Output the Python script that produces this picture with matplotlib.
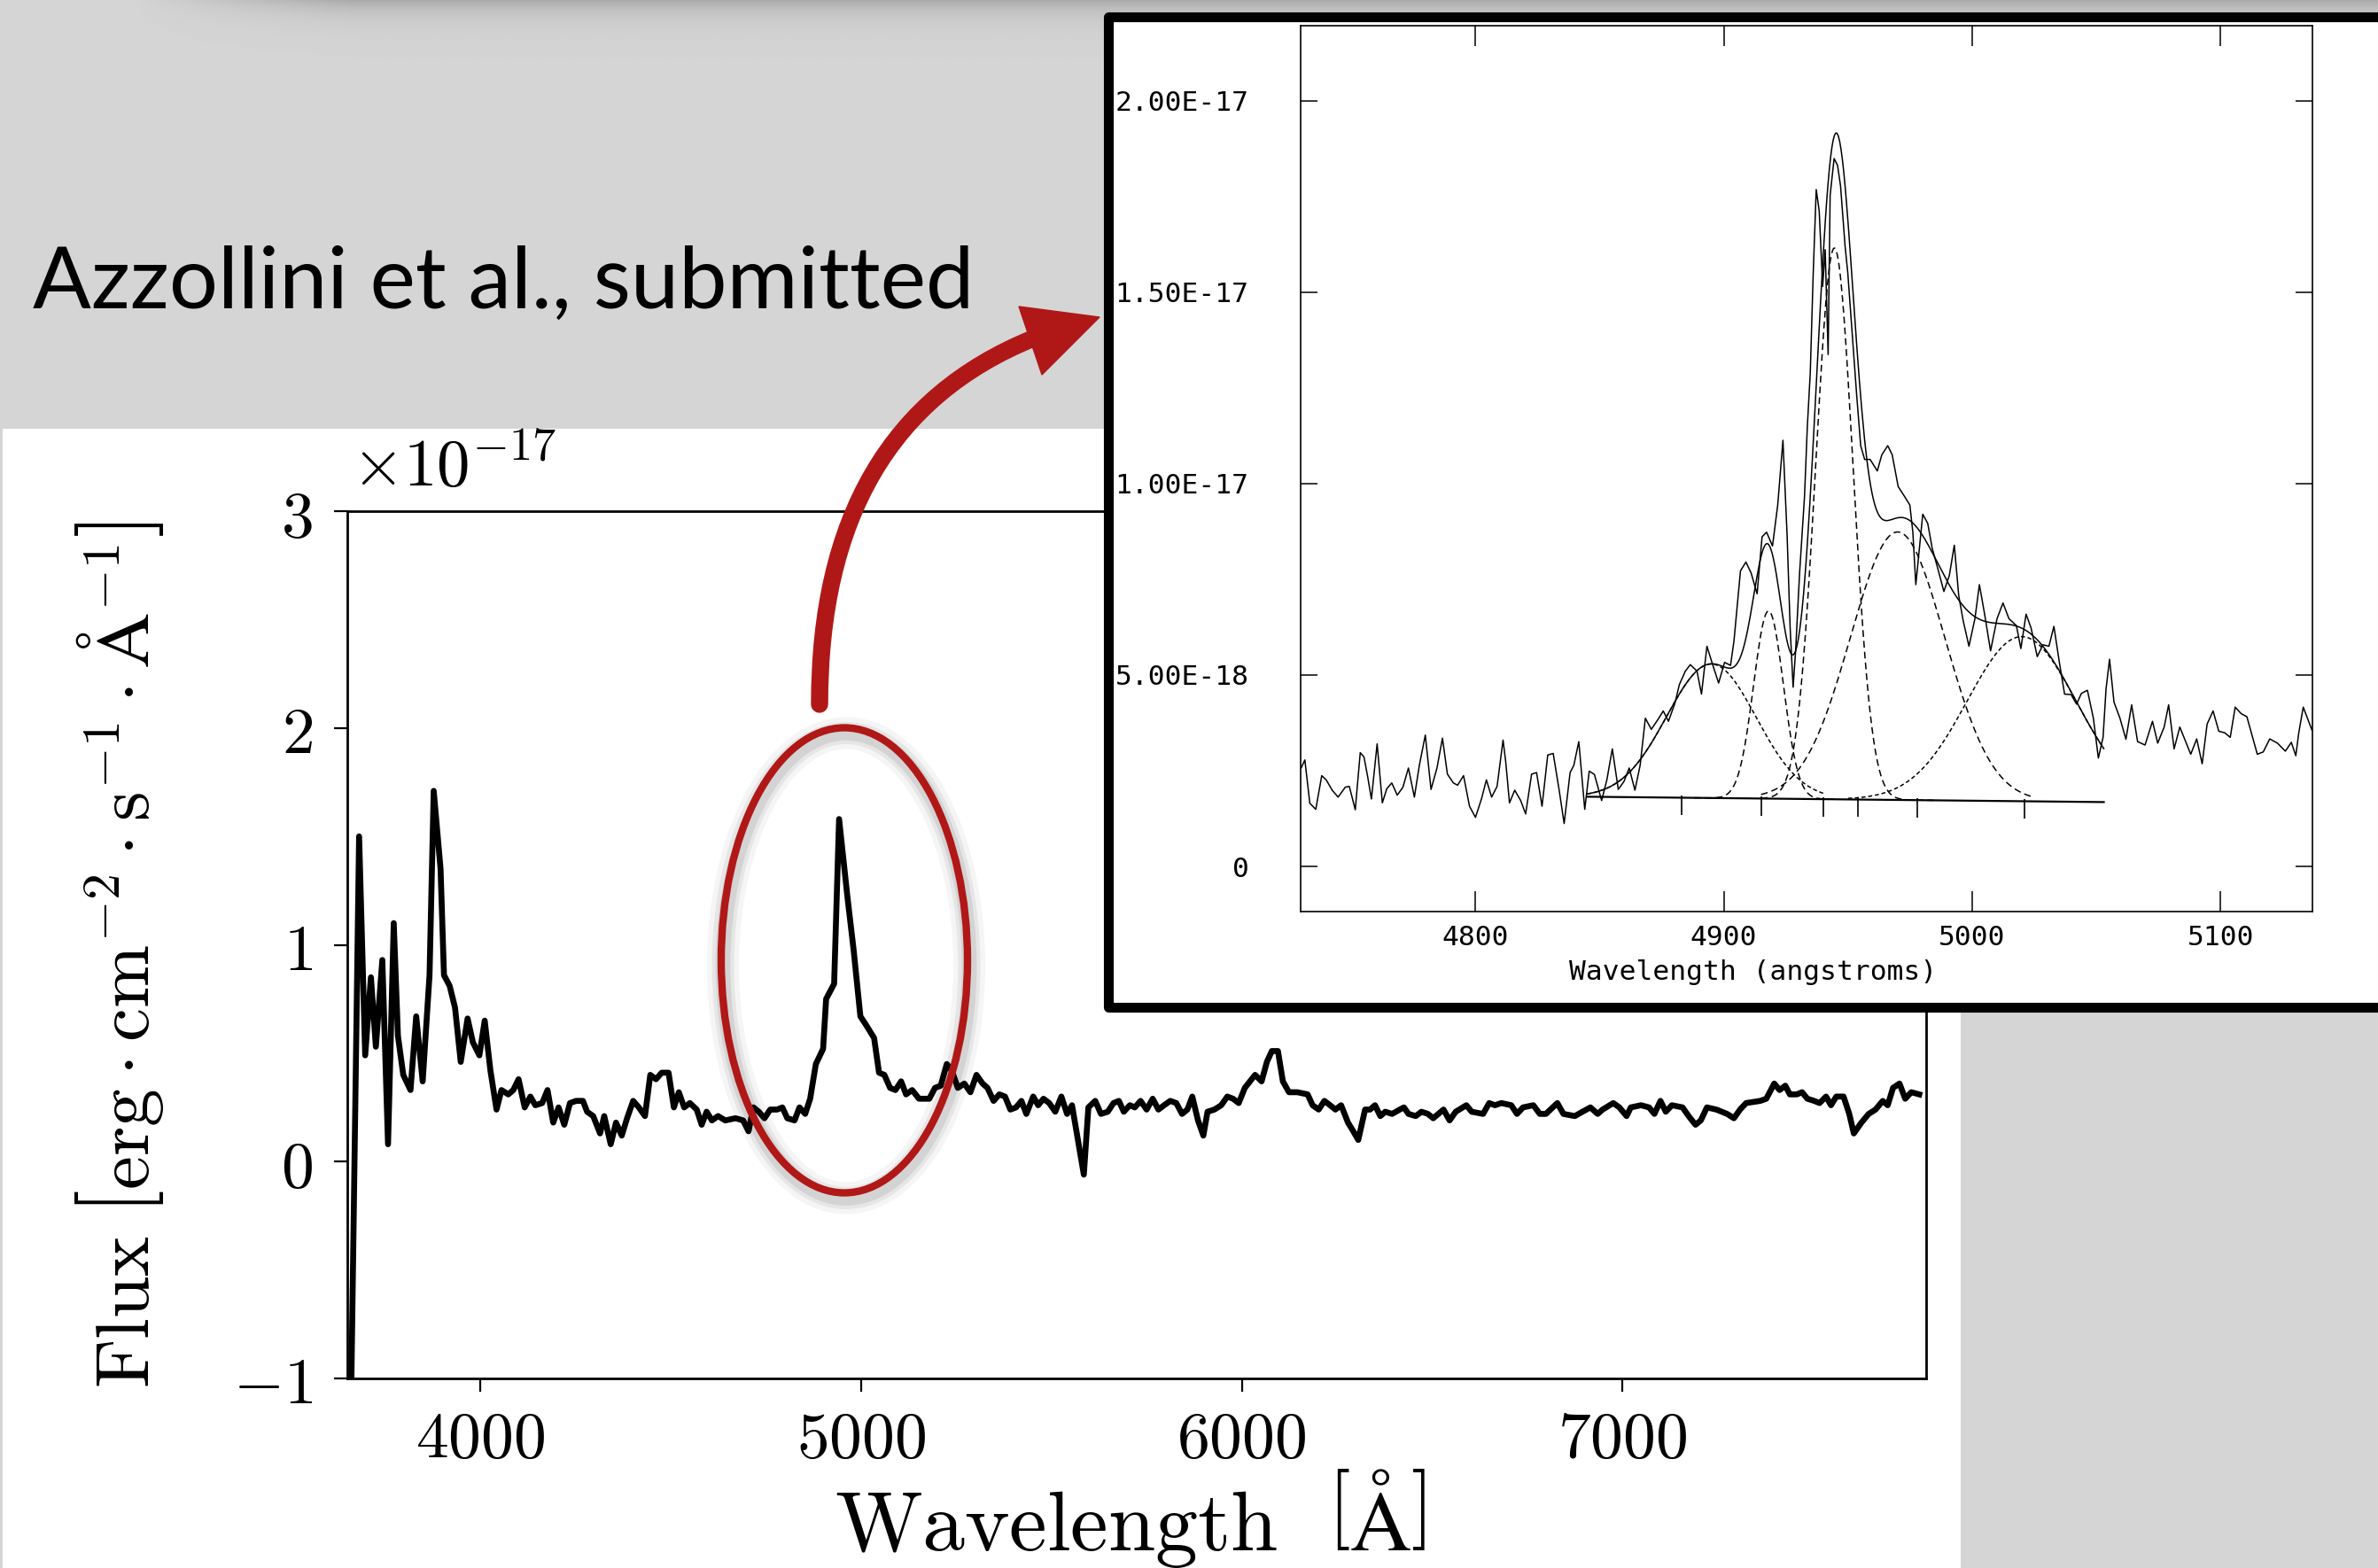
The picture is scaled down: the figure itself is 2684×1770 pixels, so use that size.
import numpy as np
import matplotlib.pyplot as plt
from matplotlib.patches import Rectangle, Ellipse, Polygon, PathPatch
from matplotlib.path import Path

plt.rcParams['mathtext.fontset'] = 'cm'

# main spectrum, flux in units of 1e-17 erg/cm2/s/A
WAVE = [3660, 3681, 3697, 3712, 3725, 3742, 3757, 3772, 3783, 3797, 3816, 3831, 3848, 3866,
        3877, 3895, 3904, 3919, 3933, 3948, 3966, 3980, 3997, 4011, 4026, 4042, 4055, 4073,
        4086, 4100, 4116, 4131, 4144, 4162, 4176, 4191, 4205, 4220, 4235, 4251, 4269, 4280,
        4296, 4314, 4325, 4342, 4356, 4371, 4385, 4401, 4416, 4432, 4446, 4461, 4476, 4494,
        4508, 4521, 4535, 4550, 4568, 4581, 4594, 4608, 4624, 4643, 4670, 4690, 4704, 4717,
        4731, 4746, 4761, 4779, 4793, 4806, 4825, 4838, 4853, 4866, 4881, 4900, 4908, 4929,
        4942, 4964, 4980, 4998, 5013, 5034, 5047, 5061, 5076, 5090, 5105, 5118, 5134, 5152,
        5179, 5194, 5209, 5225, 5238, 5254, 5271, 5287, 5303, 5319, 5332, 5348, 5363, 5378,
        5392, 5407, 5421, 5434, 5452, 5465, 5479, 5494, 5510, 5526, 5541, 5554, 5585, 5597,
        5615, 5630, 5648, 5663, 5677, 5690, 5706, 5719, 5734, 5750, 5766, 5781, 5796, 5812,
        5828, 5843, 5857, 5870, 5885, 5899, 5910, 5928, 5946, 5962, 5977, 5992, 6008, 6035,
        6052, 6066, 6079, 6095, 6108, 6124, 6146, 6173, 6186, 6202, 6217, 6232, 6246, 6261,
        6279, 6293, 6306, 6324, 6337, 6350, 6364, 6377, 6395, 6415, 6426, 6438, 6457, 6472,
        6489, 6503, 6530, 6546, 6562, 6590, 6604, 6634, 6650, 6665, 6682, 6708, 6723, 6739,
        6766, 6783, 6799, 6829, 6845, 6875, 6895, 6916, 6935, 6948, 6976, 6992, 7011, 7022,
        7049, 7070, 7084, 7100, 7114, 7130, 7158, 7174, 7192, 7206, 7222, 7247, 7275, 7293,
        7309, 7325, 7362, 7378, 7399, 7413, 7428, 7440, 7458, 7472, 7486, 7504, 7518, 7535,
        7548, 7562, 7581, 7596, 7608, 7628, 7647, 7665, 7684, 7697, 7711, 7728, 7743, 7759,
        7780]
FLUX = [-1.1, 1.50, 0.49, 0.85, 0.53, 0.93, 0.08, 1.10, 0.58, 0.40, 0.33, 0.67, 0.37, 0.86,
        1.71, 1.35, 0.86, 0.81, 0.71, 0.46, 0.66, 0.55, 0.49, 0.65, 0.42, 0.24, 0.33, 0.31,
        0.33, 0.38, 0.25, 0.30, 0.26, 0.27, 0.33, 0.18, 0.25, 0.17, 0.27, 0.28, 0.28, 0.23,
        0.21, 0.13, 0.21, 0.08, 0.18, 0.12, 0.20, 0.28, 0.25, 0.21, 0.40, 0.38, 0.41, 0.41,
        0.25, 0.32, 0.25, 0.27, 0.24, 0.17, 0.23, 0.19, 0.21, 0.19, 0.20, 0.19, 0.14, 0.25,
        0.23, 0.20, 0.24, 0.24, 0.25, 0.20, 0.19, 0.25, 0.22, 0.29, 0.45, 0.52, 0.75, 0.82,
        1.58, 1.22, 0.98, 0.67, 0.63, 0.57, 0.41, 0.40, 0.34, 0.33, 0.37, 0.31, 0.33, 0.29,
        0.29, 0.34, 0.35, 0.45, 0.42, 0.34, 0.36, 0.32, 0.40, 0.36, 0.34, 0.28, 0.31, 0.30,
        0.24, 0.25, 0.28, 0.22, 0.30, 0.26, 0.29, 0.27, 0.23, 0.30, 0.22, 0.26, -0.06, 0.25,
        0.28, 0.22, 0.23, 0.27, 0.28, 0.23, 0.26, 0.25, 0.28, 0.24, 0.29, 0.24, 0.26, 0.28,
        0.27, 0.22, 0.24, 0.30, 0.19, 0.12, 0.23, 0.24, 0.26, 0.30, 0.29, 0.27, 0.34, 0.40,
        0.37, 0.46, 0.51, 0.51, 0.37, 0.32, 0.32, 0.31, 0.26, 0.24, 0.28, 0.26, 0.24, 0.26,
        0.18, 0.14, 0.10, 0.24, 0.24, 0.26, 0.21, 0.23, 0.22, 0.24, 0.25, 0.22, 0.21, 0.23,
        0.22, 0.20, 0.24, 0.19, 0.23, 0.26, 0.23, 0.22, 0.27, 0.26, 0.27, 0.26, 0.22, 0.25,
        0.26, 0.22, 0.22, 0.27, 0.22, 0.21, 0.23, 0.25, 0.22, 0.24, 0.27, 0.25, 0.21, 0.25,
        0.26, 0.25, 0.22, 0.28, 0.23, 0.26, 0.25, 0.21, 0.17, 0.19, 0.25, 0.24, 0.22, 0.20,
        0.24, 0.27, 0.28, 0.29, 0.36, 0.33, 0.35, 0.31, 0.31, 0.32, 0.29, 0.28, 0.27, 0.30,
        0.26, 0.30, 0.30, 0.22, 0.13, 0.18, 0.22, 0.24, 0.28, 0.26, 0.34, 0.36, 0.29, 0.32,
        0.31]
X_TICKS = [4000, 5000, 6000, 7000]
Y_TICKS = [-1, 0, 1, 2, 3]

# inset: fit of the line, flux in units of 1e-18
INSET_WAVE = [4729.8, 4731.3, 4733.3, 4735.7, 4738.1, 4739.9, 4742.3, 4744.7, 4747.6, 4749.2,
              4751.6, 4753.6, 4755.1, 4756.6, 4758.1, 4760.4, 4762.5, 4764.3, 4766.3, 4768.5,
              4770.8, 4773.0, 4775.4, 4777.4, 4779.8, 4782.1, 4784.5, 4786.7, 4788.7, 4791.1,
              4792.8, 4795.2, 4797.6, 4800.0, 4802.4, 4804.4, 4806.5, 4808.7, 4811.1, 4812.2,
              4813.7, 4815.8, 4818.2, 4820.2, 4822.6, 4824.6, 4826.8, 4829.1, 4831.3, 4833.7,
              4835.7, 4838.1, 4839.6, 4841.6, 4844.0, 4845.8, 4847.9, 4850.8, 4852.9, 4855.1,
              4857.5, 4859.8, 4861.9, 4864.2, 4866.3, 4868.4, 4870.8, 4873.4, 4875.6, 4877.7,
              4880.3, 4882.1, 4884.5, 4886.5, 4889.2, 4891.0, 4893.2, 4895.5, 4897.9, 4900.3,
              4902.7, 4904.1, 4906.7, 4908.9, 4911.0, 4913.4, 4915.4, 4917.2, 4919.6, 4921.7,
              4923.8, 4925.5, 4926.7, 4927.9, 4928.9, 4930.5, 4932.5, 4933.6, 4934.8, 4936.0,
              4937.2, 4938.4, 4939.8, 4940.8, 4942.0, 4942.8, 4944.4, 4945.8, 4947.0, 4948.8,
              4949.9, 4951.5, 4953.5, 4955.1, 4956.7, 4958.9, 4961.8, 4963.6, 4966.0, 4967.8,
              4970.2, 4972.6, 4974.9, 4976.1, 4977.3, 4980.1, 4982.1, 4983.9, 4986.2, 4988.6,
              4990.8, 4992.8, 4994.6, 4996.4, 4998.7, 5001.1, 5002.9, 5005.0, 5007.4, 5010.0,
              5012.4, 5014.8, 5017.8, 5019.6, 5021.7, 5023.7, 5026.2, 5028.5, 5030.9, 5032.9,
              5035.1, 5037.2, 5039.8, 5042.0, 5044.0, 5046.4, 5048.8, 5050.8, 5052.7, 5053.9,
              5055.3, 5057.1, 5059.5, 5061.9, 5064.2, 5066.6, 5069.6, 5072.6, 5074.7, 5077.3,
              5079.1, 5081.3, 5083.6, 5085.7, 5088.0, 5090.4, 5092.6, 5094.6, 5097.0, 5099.3,
              5101.7, 5103.9, 5105.9, 5108.3, 5110.6, 5112.4, 5114.8, 5117.2, 5119.8, 5122.9,
              5126.1, 5128.5, 5130.3, 5131.5, 5133.3, 5135.0, 5136.8]
INSET_FLUX = [2.57, 2.78, 1.65, 1.49, 2.37, 2.26, 1.99, 1.81, 2.07, 2.09,
              1.48, 2.97, 2.86, 2.34, 1.76, 3.20, 1.66, 2.03, 2.18, 1.86,
              2.07, 2.57, 1.81, 2.64, 3.43, 2.01, 2.57, 3.35, 2.41, 2.18,
              2.12, 2.37, 1.57, 1.28, 1.76, 2.26, 1.81, 2.09, 3.30, 2.72,
              1.66, 1.99, 1.72, 1.37, 2.41, 2.45, 1.57, 2.91, 2.95, 1.99,
              1.12, 2.45, 2.64, 3.26, 1.49, 2.49, 2.40, 1.72, 2.26, 3.07,
              2.01, 2.22, 2.57, 1.99, 2.64, 3.87, 3.58, 3.83, 4.06, 3.79,
              4.26, 4.75, 5.10, 5.27, 5.10, 4.50, 5.75, 5.27, 4.79, 5.33,
              5.25, 5.90, 7.72, 7.95, 7.66, 7.12, 8.61, 8.73, 8.37, 9.44,
              11.13, 8.61, 6.23, 4.68, 5.63, 7.66, 9.68, 11.46, 12.89, 15.51,
              17.68, 17.12, 15.15, 16.11, 13.37, 17.53, 18.49, 18.31, 17.77, 16.22,
              15.51, 14.08, 12.30, 10.99, 10.63, 10.63, 10.33, 10.75, 10.99, 10.75,
              9.92, 9.68, 9.44, 8.73, 7.36, 9.20, 8.96, 8.31, 7.77, 7.18,
              7.60, 8.39, 7.06, 6.41, 5.75, 6.47, 7.36, 6.59, 5.63, 6.47,
              6.88, 6.47, 6.29, 5.69, 6.59, 6.23, 5.48, 5.79, 5.75, 6.27,
              5.33, 4.50, 4.49, 4.24, 4.52, 4.60, 3.87, 2.83, 3.37, 4.64,
              5.41, 4.29, 3.87, 3.32, 4.22, 3.26, 3.17, 3.79, 3.22, 3.64,
              4.22, 3.07, 3.64, 3.30, 2.93, 3.33, 2.68, 3.72, 4.06, 3.53,
              3.49, 3.37, 4.16, 3.99, 3.91, 3.49, 2.93, 2.99, 3.33, 3.22,
              3.01, 3.24, 2.89, 3.49, 4.16, 3.87, 3.56]
COMP_CENTER = [4895, 4918, 4944.5, 4970, 5020]
COMP_AMP = [3.5, 4.9, 14.4, 7.0, 4.3]
COMP_SIGMA = [18, 6, 7.5, 19, 22]
COMP_FROM = [4845, 4888, 4915, 4915, 4950]
COMP_TO = [4940, 4945, 4985, 5025, 5053]
COMP_DASH = [(0, (3, 2)), (0, (5, 3)), (0, (5, 3)), (0, (5, 3)), (0, (3, 2))]
CONT_WAVE = [4845, 5053]
CONT_FLUX = [1.82, 1.68]
MARK_WAVE = [4883, 4915, 4940, 4954, 4978, 5021]
INSET_XTICKS = [4800, 4900, 5000, 5100]
INSET_YTICKS = [0, 5, 10, 15, 20]
INSET_YLABELS = ['0', '5.00E-18', '1.00E-17', '1.50E-17', '2.00E-17']

W, H = 2684, 1770
RED = '#b01817'
MONO = 'DejaVu Sans Mono'

fig = plt.figure(figsize=(W / 100, H / 100), dpi=100)
fig.patch.set_facecolor('#d5d5d5')


def fx(px):
    return px / W


def fy(py):
    return 1 - py / H


# slide background: grey with a soft shadow at the top, white figure area
bg = fig.add_axes([0, 0, 1, 1], zorder=0)
ys = np.arange(80)[:, None]
xs = np.arange(0, W, 4)[None, :]
strip = 0.835 - 0.17 * np.clip((xs - 150) / 250, 0, 1) * np.exp(-ys / 16)
bg.imshow(strip, cmap='gray', vmin=0, vmax=1, extent=(0, W, 80, 0),
          aspect='auto', interpolation='bilinear')
bg.add_patch(Rectangle((3, 484), 2210, H - 484, facecolor='white', edgecolor='none'))
bg.set_xlim(0, W)
bg.set_ylim(H, 0)
bg.axis('off')

fig.text(fx(37), fy(348), 'Azzollini et al., submitted', fontsize=70,
         family='Lato', color='black', ha='left', va='baseline')

# main spectrum
ax = fig.add_axes([fx(392), fy(1556), fx(2174 - 392), (1556 - 577) / H], zorder=1)
ax.plot(WAVE, FLUX, color='black', lw=4.8, solid_joinstyle='round')
ax.set_xlim(3650, 7798)
ax.set_ylim(-1, 3)
ax.set_xticks(X_TICKS)
ax.set_xticklabels(['$%d$' % t for t in X_TICKS])
ax.set_yticks(Y_TICKS)
ax.set_yticklabels(['$%d$' % t for t in Y_TICKS])
ax.tick_params(direction='out', length=11, width=1.6, labelsize=53)
ax.tick_params(axis='x', pad=12)
ax.tick_params(axis='y', pad=17)
for s in ax.spines.values():
    s.set_linewidth(2)
ax.text(0.003, 1.012, r'$\times10^{-17}$', transform=ax.transAxes, fontsize=54,
        ha='left', va='bottom')
fig.text(fx(1276), fy(1714), r'$\mathrm{Wavelength}\ \ \left[\mathrm{\AA}\right]$',
         fontsize=69, ha='center', va='center')
fig.text(fx(135), fy(1078),
         r'$\mathrm{Flux}\ \left[\mathrm{erg}\cdot\mathrm{cm}^{-2}\cdot\mathrm{s}^{-1}'
         r'\cdot\mathrm{\AA}^{-1}\right]$',
         fontsize=61.5, rotation=90, ha='center', va='center')

# annotation layer: ellipse, arrow, inset frame
deco = fig.add_axes([0, 0, 1, 1], zorder=2)
deco.set_xlim(0, W)
deco.set_ylim(H, 0)
deco.axis('off')
for lw, a in [(26, 0.04), (18, 0.06), (12, 0.08)]:
    deco.add_patch(Ellipse((955, 1090), 278, 525, fill=False, edgecolor='black',
                           lw=lw, alpha=a))
deco.add_patch(Ellipse((953, 1084), 278, 525, fill=False, edgecolor=RED, lw=6))
shaft = Path([(925, 795), (925, 480), (1166, 382)], [Path.MOVETO, Path.CURVE3, Path.CURVE3])
deco.add_patch(PathPatch(shaft, fill=False, edgecolor=RED, lw=14, capstyle='round'))
deco.add_patch(Polygon([(1150, 346), (1241, 358), (1176, 423)], closed=True,
                       facecolor=RED, edgecolor=RED, lw=1))
deco.add_patch(Rectangle((1251, 18.5), 1500, 1118.5, facecolor='white', edgecolor='black',
                         lw=8, joinstyle='round'))

# inset
ins = fig.add_axes([fx(1468), fy(1029), fx(2610 - 1468), (1029 - 29) / H], zorder=3)
ins.plot(INSET_WAVE, INSET_FLUX, color='black', lw=1.1)
base = np.interp
grid = np.linspace(CONT_WAVE[0], CONT_WAVE[1], 400)
total = base(grid, CONT_WAVE, CONT_FLUX).copy()
for c, a, s in zip(COMP_CENTER, COMP_AMP, COMP_SIGMA):
    total += a * np.exp(-(grid - c) ** 2 / (2 * s ** 2))
ins.plot(grid, total, color='black', lw=1.1)
for c, a, s, x0, x1, ls in zip(COMP_CENTER, COMP_AMP, COMP_SIGMA, COMP_FROM, COMP_TO, COMP_DASH):
    xg = np.linspace(x0, x1, 200)
    yg = base(xg, CONT_WAVE, CONT_FLUX) + a * np.exp(-(xg - c) ** 2 / (2 * s ** 2))
    ins.plot(xg, yg, color='black', lw=1.1, linestyle=ls)
ins.plot(CONT_WAVE, CONT_FLUX, color='black', lw=1.6)
ins.plot(MARK_WAVE, base(MARK_WAVE, CONT_WAVE, CONT_FLUX) - 0.2, linestyle='none',
         marker='|', markersize=16, mew=1.2, color='black')
ins.set_xlim(4729.6, 5137)
ins.set_ylim(-1.18, 21.96)
ins.set_xticks(INSET_XTICKS)
ins.set_xticklabels([str(t) for t in INSET_XTICKS], family=MONO, fontsize=22.5)
ins.set_yticks(INSET_YTICKS)
ins.set_yticklabels(INSET_YLABELS, family=MONO, fontsize=22.5)
ins.tick_params(direction='in', top=True, right=True, width=1.1)
ins.tick_params(axis='x', length=16.5, pad=11)
ins.tick_params(axis='y', length=14, pad=42)
for s in ins.spines.values():
    s.set_linewidth(1.2)
ins.text(0.4475, -0.068, 'Wavelength (angstroms)', transform=ins.transAxes,
         family=MONO, fontsize=22.5, ha='center', va='center')

fig.savefig('out.png', dpi=100)
